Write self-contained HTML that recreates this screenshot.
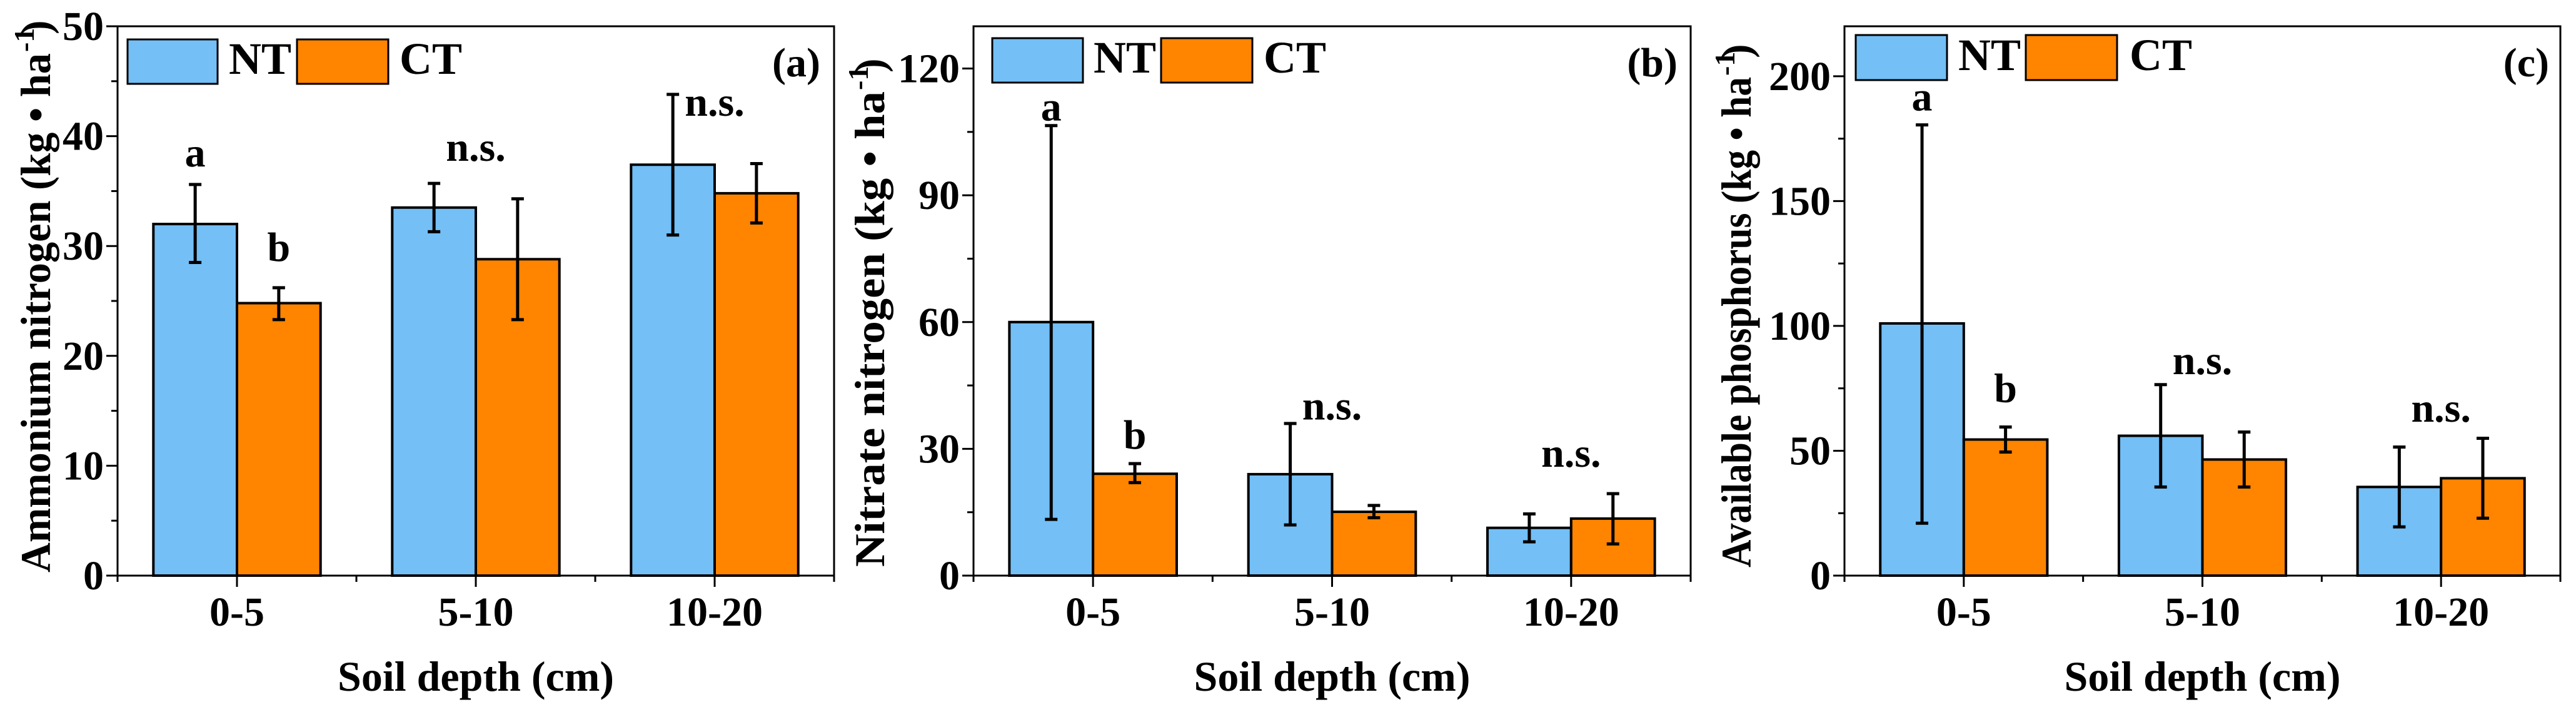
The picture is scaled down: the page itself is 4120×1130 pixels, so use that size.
<!DOCTYPE html>
<html><head><meta charset="utf-8"><style>
html,body{margin:0;padding:0;background:#fff}
svg{display:block}
text{font-family:"Liberation Serif",serif;font-weight:bold;fill:#000}
</style></head><body>
<svg id="chart" xmlns="http://www.w3.org/2000/svg" width="4120" height="1130" viewBox="0 0 4120 1130"></svg>
<script>
const categories = ["0-5","5-10","10-20"];
// Panel a: Ammonium nitrogen
const aNT = [32.0, 33.5, 37.4];
const aNTlo = [28.5, 31.3, 31.0];
const aNThi = [35.6, 35.7, 43.8];
const aCT = [24.8, 28.8, 34.8];
const aCTlo = [23.3, 23.3, 32.1];
const aCThi = [26.2, 34.3, 37.5];
const aTicks = [0,10,20,30,40,50];
const aSig = ["a","b","n.s.","n.s."];
const aSigVal = [38.5, 29.9, 39.0, 43.1];
// Panel b: Nitrate nitrogen
const bNT = [60.0, 24.0, 11.3];
const bNTlo = [13.3, 12.0, 8.0];
const bNThi = [106.5, 36.0, 14.6];
const bCT = [24.1, 15.1, 13.5];
const bCTlo = [22.0, 13.7, 7.5];
const bCThi = [26.5, 16.6, 19.4];
const bTicks = [0,30,60,90,120];
const bSig = ["a","b","n.s.","n.s."];
const bSigVal = [111, 33.3, 40.2, 29.0];
// Panel c: Available phosphorus
const cNT = [101, 56, 35.5];
const cNTlo = [21, 35.5, 19.5];
const cNThi = [180.5, 76.5, 51.5];
const cCT = [54.5, 46.5, 39];
const cCTlo = [49.5, 35.5, 23];
const cCThi = [59.5, 57.5, 55];
const cTicks = [0,50,100,150,200];
const cSig = ["a","b","n.s.","n.s."];
const cSigVal = [191.8, 75, 86.2, 67.2];

const NS="http://www.w3.org/2000/svg";
const svg=document.getElementById('chart');
function mk(tag,attrs,parent,txt){const e=document.createElementNS(NS,tag);for(const k in attrs)e.setAttribute(k,attrs[k]);if(txt!==undefined)e.textContent=txt;(parent||svg).appendChild(e);return e;}

const panels=[
 {id:'a',L:188,R:1334,T:42,B:920,max:50,minor:5,ticks:aTicks,nt:aNT,ntlo:aNTlo,nthi:aNThi,ct:aCT,ctlo:aCTlo,cthi:aCThi,sig:aSig,sigv:aSigVal,
  title:"Ammonium nitrogen (kg • ha",tx:58,ty:500,tlen:830,leg:[204,348,475,621,63,134,366,639],lab:1312},
 {id:'b',L:1557,R:2704,T:42,B:920,max:130,minor:15,ticks:bTicks,nt:bNT,ntlo:bNTlo,nthi:bNThi,ct:bCT,ctlo:bCTlo,cthi:bCThi,sig:bSig,sigv:bSigVal,
  title:"Nitrate nitrogen (kg • ha",tx:1392,ty:526,tlen:760,leg:[1587,1732,1857,2003,61,132,1749,2021],lab:2683},
 {id:'c',L:2950,R:4095,T:42,B:920,max:220,minor:25,ticks:cTicks,nt:cNT,ntlo:cNTlo,nthi:cNThi,ct:cCT,ctlo:cCTlo,cthi:cCThi,sig:cSig,sigv:cSigVal,
  title:"Available phosphorus (kg • ha",tx:2778,ty:515,tlen:784,leg:[2968,3114,3240,3386,56,128,3132,3406],lab:4077}
];

panels.forEach(p=>{
  const g=mk('g',{});
  
  
  const step=(p.R-p.L)/3;
  const xs=i=>p.L+step*(i+0.5);
  const ys=v=>p.B-(v/p.max)*(p.B-p.T);
  const bw=step*0.35;
  categories.forEach((c,i)=>{
    const x=xs(i);
    const b1=mk('rect',{x:x-bw,y:ys(p.nt[i]),width:bw,height:p.B-ys(p.nt[i]),fill:'#73bff6',stroke:'#000','stroke-width':4},g);
    
    
    const b2=mk('rect',{x:x,y:ys(p.ct[i]),width:bw,height:p.B-ys(p.ct[i]),fill:'#ff8400',stroke:'#000','stroke-width':4},g);
    
    
    [[x-bw/2,p.ntlo[i],p.nthi[i],'nt'],[x+bw/2,p.ctlo[i],p.cthi[i],'ct']].forEach(e=>{
      const eg=mk('g',{stroke:'#000','stroke-width':5},g);
      
      
      mk('line',{x1:e[0],x2:e[0],y1:ys(e[1]),y2:ys(e[2])},eg);
      mk('line',{x1:e[0]-10,x2:e[0]+10,y1:ys(e[1]),y2:ys(e[1])},eg);
      mk('line',{x1:e[0]-10,x2:e[0]+10,y1:ys(e[2]),y2:ys(e[2])},eg);
    });
  });
  const sx=[xs(0)-bw/2,xs(0)+bw/2,xs(1),xs(2)];
  p.sig.forEach((s,k)=>{
    const t=mk('text',{x:sx[k],y:ys(p.sigv[k])+22,'text-anchor':'middle','font-size':66},g,s);
    
    
  });
  const fr=mk('rect',{x:p.L,y:p.T,width:p.R-p.L,height:p.B-p.T,fill:'none',stroke:'#000','stroke-width':3},g);
  
  
  for(let v=0;v<=p.max+0.001;v+=p.minor){
    const major=p.ticks.includes(v);
    mk('line',{x1:p.L,x2:p.L-(major?18:10),y1:ys(v),y2:ys(v),stroke:'#000','stroke-width':3},g);
  }
  p.ticks.forEach(v=>{
    const t=mk('text',{x:p.L-22,y:ys(v)+22,'text-anchor':'end','font-size':66},g,String(v));
    
    
  });
  for(let k=0;k<=6;k++){
    const x=p.L+step*k/2;
    mk('line',{x1:x,x2:x,y1:p.B,y2:p.B+(k%2?18:10),stroke:'#000','stroke-width':3},g);
  }
  categories.forEach((c,i)=>{
    const t=mk('text',{x:xs(i),y:p.B+80,'text-anchor':'middle','font-size':66},g,c);
    
    
  });
  const xt=mk('text',{x:(p.L+p.R)/2,y:1104,'text-anchor':'middle','font-size':68},g,'Soil depth (cm)');
  
  
  const yt=mk('text',{x:0,y:0,'text-anchor':'middle','font-size':68,textLength:p.tlen,lengthAdjust:'spacingAndGlyphs',transform:`translate(${p.tx+22},${p.ty}) rotate(-90)`},g);
  
  
  yt.appendChild(document.createTextNode(p.title));
  const ts=mk('text',{x:0,y:0,'font-size':46,transform:`translate(${p.tx-4},${p.ty-p.tlen/2-2}) rotate(-90)`},g,'-1');
  
  
  const tp=mk('text',{x:0,y:0,'font-size':68,transform:`translate(${p.tx+22},${p.ty-p.tlen/2-30}) rotate(-90)`},g,')');
  
  
  const l=p.leg;
  const lg=mk('g',{},g);
  
  
  mk('rect',{x:l[0],y:l[4],width:l[1]-l[0],height:l[5]-l[4],fill:'#73bff6',stroke:'#000','stroke-width':3},lg);
  mk('rect',{x:l[2],y:l[4],width:l[3]-l[2],height:l[5]-l[4],fill:'#ff8400',stroke:'#000','stroke-width':3},lg);
  mk('text',{x:l[6],y:l[5]-16,'font-size':72},lg,'NT');
  mk('text',{x:l[7],y:l[5]-16,'font-size':72},lg,'CT');
  const pl=mk('text',{x:p.lab,y:122,'text-anchor':'end','font-size':66},g,'('+p.id+')');
  
  
});
</script>
</body></html>
